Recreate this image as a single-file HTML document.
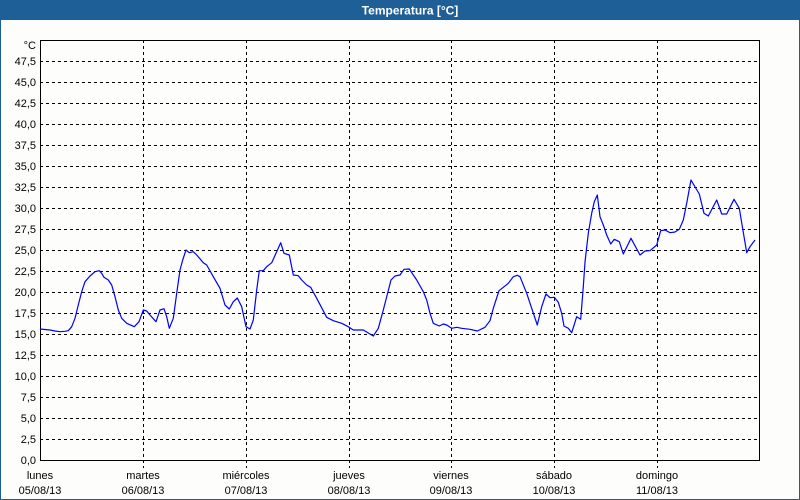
<!DOCTYPE html>
<html>
<head>
<meta charset="utf-8">
<style>
html,body{margin:0;padding:0;background:#fdfefb;}
svg{display:block;}
text{font-family:"Liberation Sans",Arial,sans-serif;}
</style>
</head>
<body>
<svg width="800" height="500" viewBox="0 0 800 500" xmlns="http://www.w3.org/2000/svg">
<rect x="0" y="0" width="800" height="500" fill="#fdfefb"/>
<rect x="0" y="0" width="800" height="20" fill="#1f5f97"/>
<rect x="0.5" y="0.5" width="799" height="499" fill="none" stroke="#1f5f97" stroke-width="1"/>
<text x="410" y="14.5" font-size="12" font-weight="bold" fill="#ffffff" text-anchor="middle">Temperatura [°C]</text>

<g stroke="#000" stroke-width="1" stroke-dasharray="3 3" shape-rendering="crispEdges">
<line x1="40" y1="439.5" x2="760" y2="439.5"/>
<line x1="40" y1="418.5" x2="760" y2="418.5"/>
<line x1="40" y1="397.5" x2="760" y2="397.5"/>
<line x1="40" y1="376.5" x2="760" y2="376.5"/>
<line x1="40" y1="355.5" x2="760" y2="355.5"/>
<line x1="40" y1="334.5" x2="760" y2="334.5"/>
<line x1="40" y1="313.5" x2="760" y2="313.5"/>
<line x1="40" y1="292.5" x2="760" y2="292.5"/>
<line x1="40" y1="271.5" x2="760" y2="271.5"/>
<line x1="40" y1="250.5" x2="760" y2="250.5"/>
<line x1="40" y1="229.5" x2="760" y2="229.5"/>
<line x1="40" y1="208.5" x2="760" y2="208.5"/>
<line x1="40" y1="187.5" x2="760" y2="187.5"/>
<line x1="40" y1="166.5" x2="760" y2="166.5"/>
<line x1="40" y1="145.5" x2="760" y2="145.5"/>
<line x1="40" y1="124.5" x2="760" y2="124.5"/>
<line x1="40" y1="103.5" x2="760" y2="103.5"/>
<line x1="40" y1="82.5" x2="760" y2="82.5"/>
<line x1="40" y1="61.5" x2="760" y2="61.5"/>
<line x1="143.5" y1="40" x2="143.5" y2="468"/>
<line x1="246.5" y1="40" x2="246.5" y2="468"/>
<line x1="349.5" y1="40" x2="349.5" y2="468"/>
<line x1="451.5" y1="40" x2="451.5" y2="468"/>
<line x1="554.5" y1="40" x2="554.5" y2="468"/>
<line x1="657.5" y1="40" x2="657.5" y2="468"/>
</g>
<rect x="40.5" y="40.5" width="719" height="420" fill="none" stroke="#000" stroke-width="1" shape-rendering="crispEdges"/>

<g font-size="11" fill="#000" text-anchor="end">
<text x="36" y="49">°C</text>
<text x="36" y="65">47,5</text>
<text x="36" y="86">45,0</text>
<text x="36" y="107">42,5</text>
<text x="36" y="128">40,0</text>
<text x="36" y="149">37,5</text>
<text x="36" y="170">35,0</text>
<text x="36" y="191">32,5</text>
<text x="36" y="212">30,0</text>
<text x="36" y="233">27,5</text>
<text x="36" y="254">25,0</text>
<text x="36" y="275">22,5</text>
<text x="36" y="296">20,0</text>
<text x="36" y="317">17,5</text>
<text x="36" y="338">15,0</text>
<text x="36" y="359">12,5</text>
<text x="36" y="380">10,0</text>
<text x="36" y="401">7,5</text>
<text x="36" y="422">5,0</text>
<text x="36" y="443">2,5</text>
<text x="36" y="464">0,0</text>
</g>

<g font-size="11" fill="#000" text-anchor="middle">
<text x="40" y="479">lunes</text>
<text x="40" y="494">05/08/13</text>
<text x="143" y="479">martes</text>
<text x="143" y="494">06/08/13</text>
<text x="246" y="479">miércoles</text>
<text x="246" y="494">07/08/13</text>
<text x="349" y="479">jueves</text>
<text x="349" y="494">08/08/13</text>
<text x="451" y="479">viernes</text>
<text x="451" y="494">09/08/13</text>
<text x="554" y="479">sábado</text>
<text x="554" y="494">10/08/13</text>
<text x="657" y="479">domingo</text>
<text x="657" y="494">11/08/13</text>
</g>

<polyline fill="none" stroke="#0000ff" stroke-width="1.2" stroke-linejoin="round" points="40,329 50,330 55,331 60,331.7 65,331.3 68.3,330.7 71.7,326.7 75,318.3 78.3,305 81.7,291.7 85,281.7 90,276 95,271.7 99.3,270.7 101.7,273.3 104,277.3 108.3,280 111.7,285 115,296.7 118.3,310 121.7,318.3 126.7,323.3 134.3,326.7 139,321.7 143.3,310 146.7,311 150,315 156,321.7 160,310 164,308.7 166.7,316.7 169.3,328.3 173.3,318.3 176.7,293.3 180,270 182.7,260 186,250 189.3,252.7 193.3,251.7 196.7,255 203.3,262.7 206.7,265 213.3,276.7 220,288.3 225,305 229.3,309 233.3,301.7 237.3,298 241.7,306.7 246,326.7 250,329 253.3,320 256.7,290 259.3,270.7 263.3,270.7 266.7,266.7 271.7,262.7 276,253.3 280.7,242.7 284,253.3 289.3,255 293.3,275 298.3,275.7 301.7,280 306.7,285 310.7,287.3 316.7,298.3 326.7,317.3 333.3,320.7 341.7,323.3 348.3,326.7 353.3,330 363.3,330 373.3,336 378.3,328.3 383.3,310 391,280 395,276 400,275 404,269.3 409.3,269 416.7,280 423.3,291.7 426.7,300 430,313.3 433.3,323.3 439.3,326 443.3,324 446.7,325 451.7,328.3 456.7,327.3 461.7,328.3 470,329.3 477.3,331 485,327.3 490,320.7 493.3,308.3 499,290.7 503.3,287.3 508.3,283.3 513.3,276.7 517.3,275.3 520,276.7 526.7,293.3 531.7,308.3 537.3,325 541.7,306.7 546,294 550,297.7 554.3,297.3 558.3,302.3 561.7,313.3 564,326 568.3,328.3 571.7,332.7 576.7,316.7 580.7,319.3 583.3,286.7 585,262 588.3,233.3 591.7,213.3 594.3,201.7 597.3,195 600,216.7 603.3,225 606.7,235 610.7,244 614.3,239.3 619.3,241.7 623.3,254 631,238.3 640,255 645,251 650,250.7 656.7,245 660.7,230.7 665,230 670,232.7 675,232 679.3,229.3 683.3,220 686.7,203.3 691,180 693.3,184 699.3,194 704,213.3 708.3,216 716.7,200 721.7,214 726.7,214 734,199.3 739.3,208.3 746.7,252.7 750,246.7 755,240"/>
</svg>
</body>
</html>
